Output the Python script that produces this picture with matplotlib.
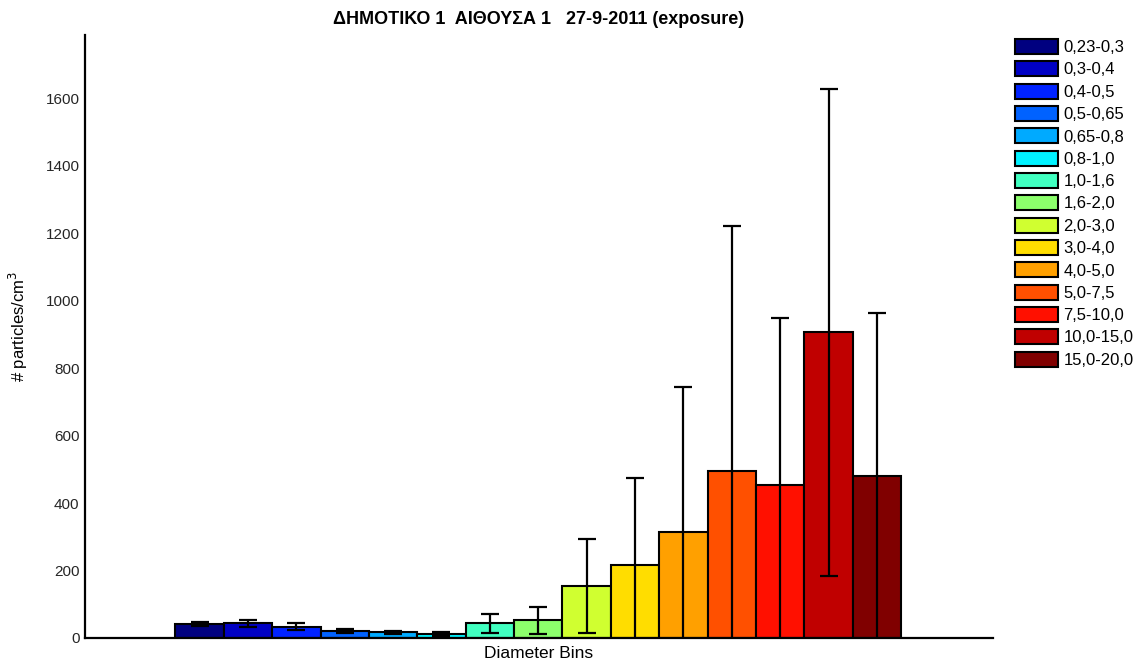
import numpy as np
import matplotlib
matplotlib.use("Agg")
import matplotlib.pyplot as plt

plt.rcParams['font.family'] = ['Liberation Sans', 'DejaVu Sans']

# particle size bins (um) and mean counts with standard deviation
bins = ['0,23-0,3', '0,3-0,4', '0,4-0,5', '0,5-0,65', '0,65-0,8', '0,8-1,0',
        '1,0-1,6', '1,6-2,0', '2,0-3,0', '3,0-4,0', '4,0-5,0', '5,0-7,5',
        '7,5-10,0', '10,0-15,0', '15,0-20,0']
means = [42, 43, 34, 21, 17, 12, 43, 52, 154, 216, 313, 495, 453, 906, 480]
stds = [6, 10, 9, 7, 5, 6, 28, 41, 138, 259, 431, 726, 495, 722, 484]
colors = ['#000080', '#0000C4', '#0022FF', '#0062FF', '#00AAFF', '#00F2FF',
          '#40FFC0', '#8CFF6C', '#D0FF30', '#FFDD00', '#FFA000', '#FF5000',
          '#FF1000', '#C00000', '#800000']

fig = plt.figure(figsize=(11.39, 6.71), dpi=100)
ax = fig.add_axes([0.0746, 0.0492, 0.7972, 0.8986])

x = np.arange(1, len(bins) + 1)
for xi, m, c, lab in zip(x, means, colors, bins):
    ax.bar(xi, m, width=1.0, color=c, edgecolor='black', linewidth=1.5,
           label=lab, zorder=2)

ax.errorbar(x, means, yerr=stds, fmt='none', ecolor='black', elinewidth=1.6,
            capsize=6.5, capthick=1.6, zorder=3)

ax.set_xlim(-1.37, 17.4)
ax.set_ylim(0, 1787)
ax.set_xticks([])
ax.set_yticks(np.arange(0, 1601, 200))
ax.tick_params(axis='y', length=0, pad=4, labelsize=11, labelcolor='#262626')

for s in ['top', 'right']:
    ax.spines[s].set_visible(False)
for s in ['left', 'bottom']:
    ax.spines[s].set_linewidth(1.6)

ax.set_ylabel('# particles/cm$^3$', fontsize=12)
ax.yaxis.set_label_coords(-0.061, 0.516)
ax.set_xlabel('Diameter Bins', fontsize=12.5, labelpad=6)
ax.set_title('ΔΗΜΟΤΙΚΟ 1  ΑΙΘΟΥΣΑ 1   27-9-2011 (exposure)',
             fontsize=13, fontweight='bold', pad=8)

fig.legend(loc='upper left', bbox_to_anchor=(1015 / 1139, 1 - 39 / 671),
           frameon=False, fontsize=12, borderpad=0, borderaxespad=0,
           handlelength=2.6, handleheight=1.0, labelspacing=0.37,
           handletextpad=0.3)

fig.savefig('out.png', dpi=100)
